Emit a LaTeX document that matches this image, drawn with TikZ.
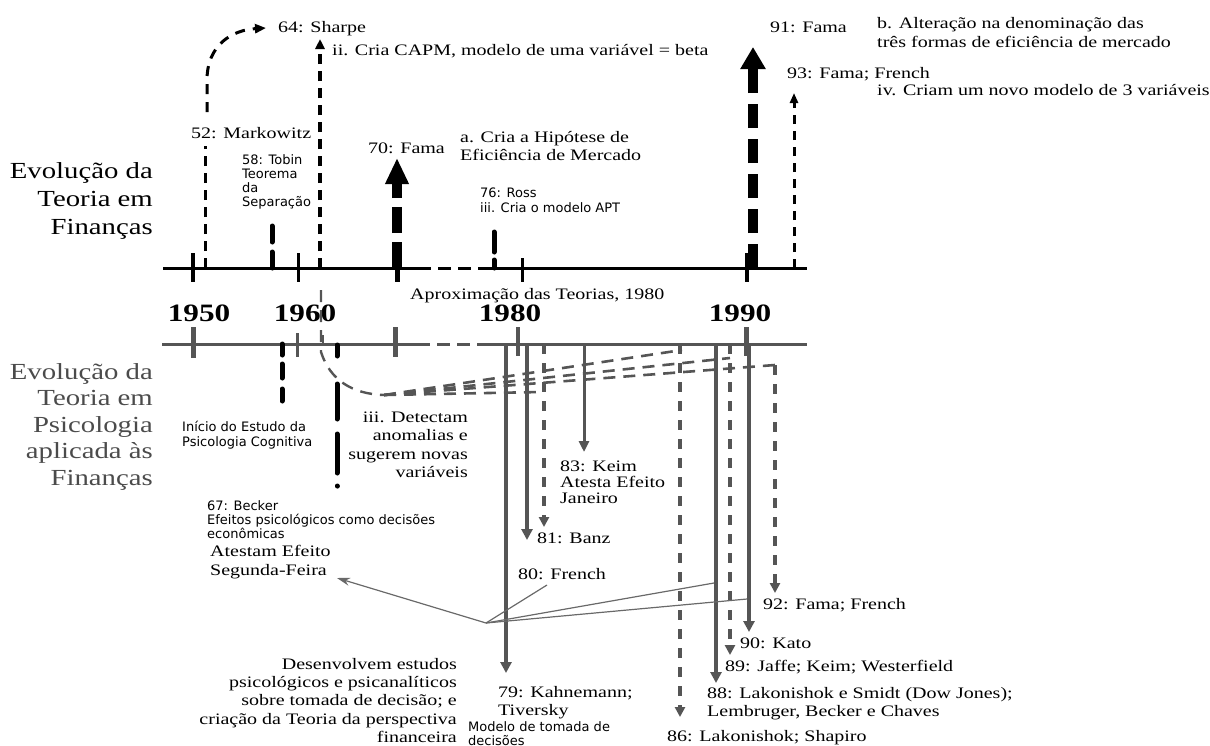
\documentclass[tikz,border=0pt]{standalone}
\usepackage{fontspec}
\setmainfont{Liberation Serif}[FakeStretch=1.25]
\newfontfamily\sn{DejaVu Sans}
\usetikzlibrary{arrows.meta}
\definecolor{gr}{RGB}{85,85,85}
\definecolor{thin}{RGB}{105,105,105}
\definecolor{lab}{RGB}{75,75,75}
\begin{document}
\begin{tikzpicture}[x=1pt,y=-1pt,
  every node/.style={inner sep=0pt},
  sf/.style={font=\fontsize{16}{18.5}\selectfont, align=left},
  ss/.style={font=\sn\fontsize{13}{14}\selectfont, align=left},
  big/.style={font=\fontsize{23}{28}\selectfont, align=right},
  bigg/.style={font=\fontsize{23}{26.5}\selectfont, align=right, text=lab},
  yr/.style={font=\bfseries\fontsize{25}{25}\selectfont},
  tax/.style={line width=3pt},
  bax/.style={line width=3pt, draw=gr},
  bdash/.style={line width=5pt, line cap=round, dash pattern=on 16pt off 10pt},
  gsol/.style={draw=gr, line width=4.5pt, -{Triangle[length=11pt,width=11pt]}},
  gdash/.style={draw=gr, line width=4pt, dash pattern=on 10pt off 9pt, -{Triangle[length=10pt,width=10pt]}},
  fan/.style={draw=gr, line width=2.6pt, dash pattern=on 12pt off 8pt},
  thinl/.style={draw=thin, line width=1.2pt},
]
\useasboundingbox (0,0) rectangle (1210,745);

% ---------- top axis ----------
\coordinate (t0) at (163,268); \coordinate (t1) at (418,268);
\coordinate (t2) at (480,268); \coordinate (t3) at (807,268);
\draw[tax] (t0) -- (t1);
\draw[tax, dash pattern=on 13pt off 7pt] (t1) -- (t2);
\draw[tax] (t2) -- (t3);
\foreach \x/\a/\w in {193/253/3.5, 298/253/3, 397/253/5, 522/258/3, 747/253/4}
  \draw[line width=\w pt] (\x,\a) -- (\x,282);

% ---------- bottom axis ----------
\coordinate (b0) at (162,344); \coordinate (b1) at (417,344);
\coordinate (b2) at (478,344); \coordinate (b3) at (807,344);
\draw[bax] (b0) -- (b1);
\draw[bax, dash pattern=on 13pt off 7pt] (b1) -- (b2);
\draw[bax] (b2) -- (b3);
\foreach \x/\a/\b/\w in {193/327/358/5, 297/333/357/3, 323/335/345/2, 395/327/357/5, 518/327/356/3.5, 746/327/356/5}
  \draw[gr, line width=\w pt] (\x,\a) -- (\x,\b);

% ---------- side labels (base = last line) ----------
\node[big, anchor=base east] (lfin) at (153,234) {Evolução da\\Teoria em\\Finanças};
\node[bigg, anchor=base east] (lpsi) at (153,485) {Evolução da\\Teoria em\\Psicologia\\aplicada às\\Finanças};

% ---------- years ----------
\node[yr, anchor=base] (y50) at (199,321.5) {1950};
\node[yr, anchor=base] (y60) at (305,321.5) {1960};
\node[yr, anchor=base] (y80) at (510,321.5) {1980};
\node[yr, anchor=base] (y90) at (740,321.5) {1990};
\node[sf, anchor=base west] (aprox) at (410,299) {Aproximação das Teorias, 1980};

% ---------- top events ----------
\node[sf, anchor=base west] (sharpe) at (278,32) {64: Sharpe};
\node[sf, anchor=base west] (capm) at (332,55) {ii. Cria CAPM, modelo de uma variável = beta};
\node[sf, anchor=base west] (marko) at (191,138) {52: Markowitz};
\node[sf, anchor=base west] (fama70) at (368,153) {70: Fama};
\node[sf, anchor=base west] (hem) at (460,160.5) {a. Cria a Hipótese de\\Eficiência de Mercado};
\node[ss, anchor=base west] (tobin) at (242,206.5) {58: Tobin\\Teorema\\da\\Separação};
\node[ss, anchor=base west, font=\sn\fontsize{13}{15}\selectfont] (ross) at (480,212.5) {76: Ross\\iii. Cria o modelo APT};
\node[sf, anchor=base west] (fama91) at (770,32) {91: Fama};
\node[sf, anchor=base west, font=\fontsize{16}{19}\selectfont] (alt) at (877,47) {b. Alteração na denominação das\\três formas de eficiência de mercado};
\node[sf, anchor=base west] (ff93) at (787,78) {93: Fama; French};
\node[sf, anchor=base west] (iv) at (877,95) {iv. Criam um novo modelo de 3 variáveis};

% Markowitz -> Sharpe
\coordinate (mk0) at (205,268); \coordinate (mk1) at (205,146);
\draw[line width=3pt, dash pattern=on 10pt off 7pt] (mk0) -- (mk1);
\coordinate (mk2) at (207,112); \coordinate (mk3) at (266,28);
\draw[line width=3pt, dash pattern=on 10pt off 8pt, -{Triangle[length=11pt,width=9pt]}]
  (mk2) -- (207,80) .. controls (207,45) and (232,30) .. (mk3);
% Sharpe
\coordinate (sh0) at (320,268); \coordinate (sh1) at (320,39);
\draw[line width=3.5pt, dash pattern=on 10pt off 7pt, -{Triangle[length=10pt,width=9pt]}] (sh0) -- (sh1);
% Tobin
\coordinate (tb0) at (272,268); \coordinate (tb1) at (272,222);
\draw[bdash] (tb0) -- (tb1);
% Ross
\coordinate (rs0) at (494,268); \coordinate (rs1) at (494,232);
\draw[bdash, dash pattern=on 8pt off 8pt on 20pt off 10pt] (rs0) -- (rs1);
% Fama 70
\coordinate (f70a) at (397,268); \coordinate (f70b) at (397,158);
\draw[line width=10pt, dash pattern=on 26pt off 9pt, -{Triangle[length=26pt,width=22pt]}] (f70a) -- (f70b);
% Fama 91
\coordinate (f91a) at (753,268); \coordinate (f91b) at (753,47);
\draw[line width=10pt, dash pattern=on 24pt off 11pt, -{Triangle[length=22pt,width=24pt]}] (f91a) -- (f91b);
% Fama French 93
\coordinate (f93a) at (794,268); \coordinate (f93b) at (794,93);
\draw[line width=3pt, dash pattern=on 9pt off 7pt, -{Triangle[length=10pt,width=8pt]}] (f93a) -- (f93b);

% ---------- approximation curve & fan ----------
\coordinate (ap0) at (321,290); \coordinate (fo) at (384,395);
\draw[fan, line width=2.4pt] (ap0) -- (321,352) .. controls (330,380) and (352,394) .. (fo);
\coordinate (fe1) at (682,350); \coordinate (fe2) at (730,358);
\coordinate (fe3) at (775,365); \coordinate (fe4) at (541,392);
\draw[fan] (fo) -- (fe1);
\draw[fan] (fo) -- (fe2);
\draw[fan] (fo) -- (fe3);
\draw[fan] (fo) -- (fe4);

% ---------- lower black lines ----------
\coordinate (ic0) at (282,344); \coordinate (ic1) at (282,401);
\draw[line width=5pt, line cap=round, dash pattern=on 11pt off 9pt on 14pt off 11pt on 14pt off 9pt] (ic0) -- (ic1);
\coordinate (dd0) at (337,345); \coordinate (dd1) at (337,487);
\draw[line width=5pt, line cap=round, dash pattern=on 11pt off 28pt on 35pt off 15pt on 39pt off 13pt on 0.1pt off 100pt] (dd0) -- (dd1);

% ---------- lower vertical arrows ----------
\coordinate (v79a) at (506,344); \coordinate (v79b) at (506,673);
\coordinate (v81a) at (527,344); \coordinate (v81b) at (527,540);
\coordinate (v81c) at (544,344); \coordinate (v81d) at (544,527);
\coordinate (v83a) at (584,344); \coordinate (v83b) at (584,452);
\coordinate (v86a) at (680,344); \coordinate (v86b) at (680,717);
\coordinate (v88a) at (716,344); \coordinate (v88b) at (716,683);
\coordinate (v89a) at (730,344); \coordinate (v89b) at (730,655);
\coordinate (v90a) at (749,344); \coordinate (v90b) at (749,632);
\coordinate (v92a) at (775,365); \coordinate (v92b) at (775,593);
\draw[gsol] (v79a) -- (v79b);
\draw[gsol] (v81a) -- (v81b);
\draw[gdash] (v81c) -- (v81d);
\draw[gsol, line width=3pt, -{Triangle[length=11pt,width=10pt]}] (v83a) -- (v83b);
\draw[gdash] (v86a) -- (v86b);
\draw[gsol] (v88a) -- (v88b);
\draw[gdash] (v89a) -- (v89b);
\draw[gsol] (v90a) -- (v90b);
\draw[gdash] (v92a) -- (v92b);

% ---------- thin connectors ----------
\coordinate (hub) at (486,623);
\coordinate (hs) at (337,578); \coordinate (hf) at (547,585);
\coordinate (h88) at (714,583); \coordinate (h90) at (747,599);
\draw[thinl, -{Stealth[length=13pt,width=8pt]}] (hub) -- (hs);
\draw[thinl] (hub) -- (hf);
\draw[thinl] (hub) -- (h88);
\draw[thinl] (hub) -- (h90);

% ---------- lower labels (base = last line) ----------
\node[ss, anchor=base west, font=\sn\fontsize{13}{15}\selectfont] (inicio) at (182,446.5) {Início do Estudo da\\Psicologia Cognitiva};
\node[sf, anchor=base east, align=right] (detect) at (468,477.5) {iii. Detectam\\anomalias e\\sugerem novas\\variáveis};
\node[sf, anchor=base west, font=\fontsize{16}{16}\selectfont] (keim) at (560,503) {83: Keim\\Atesta Efeito\\Janeiro};
\node[ss, anchor=base west] (becker) at (207,538.5) {67: Becker\\Efeitos psicológicos como decisões\\econômicas};
\node[sf, anchor=base west, font=\fontsize{16}{19}\selectfont] (segunda) at (210,575) {Atestam Efeito\\Segunda-Feira};
\node[sf, anchor=base west] (banz) at (537,543) {81: Banz};
\node[sf, anchor=base west] (french80) at (518,579) {80: French};
\node[sf, anchor=base east, align=right, font=\fontsize{16}{18.3}\selectfont] (desenv) at (457,742.5) {Desenvolvem estudos\\psicológicos e psicanalíticos\\sobre tomada de decisão; e\\criação da Teoria da perspectiva\\financeira};
\node[sf, anchor=base west, font=\fontsize{16}{18}\selectfont] (kahn) at (498,715) {79: Kahnemann;\\Tiversky};
\node[ss, anchor=base west] (modelo) at (468,745) {Modelo de tomada de\\decisões};
\node[sf, anchor=base west] (lak86) at (667,741) {86: Lakonishok; Shapiro};
\node[sf, anchor=base west, font=\fontsize{16}{18}\selectfont] (lak88) at (707,716) {88: Lakonishok e Smidt (Dow Jones);\\Lembruger, Becker e Chaves};
\node[sf, anchor=base west] (jaffe) at (725,671) {89: Jaffe; Keim; Westerfield};
\node[sf, anchor=base west] (kato) at (740,648) {90: Kato};
\node[sf, anchor=base west] (ff92) at (763,609) {92: Fama; French};
\end{tikzpicture}
\end{document}
